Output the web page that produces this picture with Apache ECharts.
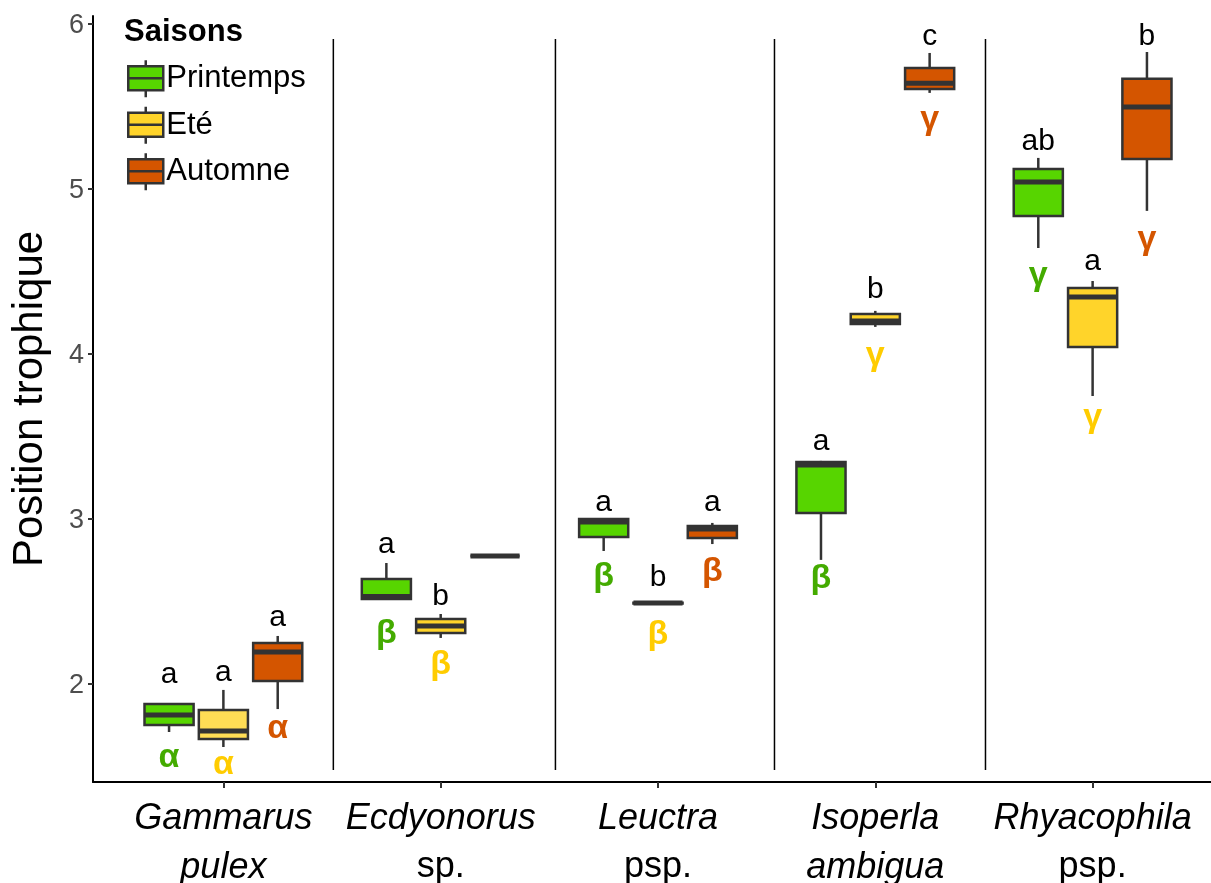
<!DOCTYPE html>
<html>
<head>
<meta charset="utf-8">
<script src="https://cdn.jsdelivr.net/npm/echarts@6/dist/echarts.min.js"></script>
<style>
  html, body { margin: 0; padding: 0; background: #ffffff; }
  #chart { width: 1211px; height: 883px; }
</style>
</head>
<body>
<div id="chart"></div>
<script>
// Taxa along the x axis (positions 1..5)
const taxa = ['Gammarus pulex', 'Ecdyonorus sp.', 'Leuctra psp.', 'Isoperla ambigua', 'Rhyacophila psp.'];
const taxonTickLabels = [
  '{i|Gammarus}\n{i|pulex}',
  '{i|Ecdyonorus}\n{n|sp.}',
  '{i|Leuctra}\n{n|psp.}',
  '{i|Isoperla}\n{i|ambigua}',
  '{i|Rhyacophila}\n{n|psp.}'
];
const yTicks = [2, 3, 4, 5, 6];

const seasons = ['Printemps', 'Eté', 'Automne'];

// Box statistics per taxon: [min, q1, median, q3, max]
const printemps = [
  [1.709, 1.752, 1.812, 1.879, 1.880],
  [2.510, 2.515, 2.530, 2.636, 2.733],
  [2.806, 2.891, 2.982, 3.000, 3.000],
  [2.752, 3.036, 3.327, 3.345, 3.352],
  [4.642, 4.836, 5.042, 5.121, 5.188]
];
const ete = [
  [1.618, 1.667, 1.715, 1.842, 1.964],
  [2.279, 2.309, 2.352, 2.394, 2.424],
  [2.485, 2.488, 2.490, 2.493, 2.495],
  [4.164, 4.182, 4.200, 4.242, 4.261],
  [3.745, 4.042, 4.345, 4.400, 4.442]
];
const automne = [
  [1.848, 2.018, 2.194, 2.248, 2.291],
  [2.776, 2.776, 2.776, 2.776, 2.776],
  [2.848, 2.885, 2.939, 2.958, 2.976],
  [5.582, 5.606, 5.640, 5.733, 5.824],
  [4.867, 5.182, 5.497, 5.667, 5.830]
];

// Letters of the between-taxa test (above boxes) and their heights
const printempsLetters = ['a', 'a', 'a', 'a', 'ab'];
const printempsLetterY = [2.055, 2.842, 3.097, 3.467, 5.285];
const eteLetters = ['a', 'b', 'b', 'b', 'a'];
const eteLetterY = [2.067, 2.527, 2.642, 4.388, 4.558];
const automneLetters = ['a', '', 'a', 'c', 'b'];
const automneLetterY = [2.400, 0, 3.097, 5.921, 5.921];

// Greek letters of the between-season test (below boxes) and their heights
const printempsGreek = ['α', 'β', 'β', 'β', 'γ'];
const printempsGreekY = [1.555, 2.305, 2.650, 2.638, 4.475];
const eteGreek = ['α', 'β', 'β', 'γ', 'γ'];
const eteGreekY = [1.512, 2.117, 2.299, 3.990, 3.614];
const automneGreek = ['α', '', 'β', 'γ', 'γ'];
const automneGreekY = [1.730, 0, 2.680, 5.420, 4.693];

// Vertical dividers between taxa (x in axis units)
const dividers = [1.506, 2.528, 3.536, 4.507];

const FONT = '"Liberation Sans", Arial, Helvetica, sans-serif';
const STROKE = '#333333';
const HALF = 0.113;      // half box width, axis units
const DODGE = 0.25;      // spacing between seasons within a taxon

const seasonStyle = [
  { stats: printemps, letters: printempsLetters, letterY: printempsLetterY, greek: printempsGreek, greekY: printempsGreekY,
    fills: ['#57d500', '#57d500', '#57d500', '#57d500', '#57d500'], greekColor: '#44ab00', offset: -DODGE },
  { stats: ete, letters: eteLetters, letterY: eteLetterY, greek: eteGreek, greekY: eteGreekY,
    fills: ['#ffdd55', '#ffd42a', '#ffd42a', '#ffd42a', '#ffd42a'], greekColor: '#ffcc00', offset: 0 },
  { stats: automne, letters: automneLetters, letterY: automneLetterY, greek: automneGreek, greekY: automneGreekY,
    fills: ['#d45500', '#d45500', '#d45500', '#d45500', '#d45500'], greekColor: '#d45500', offset: DODGE }
];

function boxRenderer(s) {
  return function (params, api) {
    const c = api.value(0) + s.offset;
    const mn = api.value(1), q1 = api.value(2), md = api.value(3), q3 = api.value(4), mx = api.value(5);
    const xl = api.coord([c - HALF, md])[0];
    const xr = api.coord([c + HALF, md])[0];
    const xm = api.coord([c, md])[0];
    const y = v => api.coord([c, v])[1];
    const i = params.dataIndex;
    const children = [
      { type: 'line', shape: { x1: xm, y1: y(mx), x2: xm, y2: y(q3) }, style: { stroke: STROKE, lineWidth: 2.5 } },
      { type: 'line', shape: { x1: xm, y1: y(q1), x2: xm, y2: y(mn) }, style: { stroke: STROKE, lineWidth: 2.5 } },
      { type: 'rect', shape: { x: xl, y: y(q3), width: xr - xl, height: y(q1) - y(q3) },
        style: { fill: s.fills[i], stroke: STROKE, lineWidth: 2.5 } },
      { type: 'line', shape: { x1: xl, y1: y(md), x2: xr, y2: y(md) }, style: { stroke: STROKE, lineWidth: 5 } }
    ];
    if (s.letters[i]) {
      children.push({ type: 'text', x: xm, y: y(s.letterY[i]),
        style: { text: s.letters[i], fill: '#000', font: '30px ' + FONT, align: 'center', verticalAlign: 'middle' } });
    }
    if (s.greek[i]) {
      children.push({ type: 'text', x: xm, y: y(s.greekY[i]),
        style: { text: s.greek[i], fill: s.greekColor, font: 'bold 34px ' + FONT, align: 'center', verticalAlign: 'middle' } });
    }
    return { type: 'group', children };
  };
}

const boxSeries = seasonStyle.map((s, k) => ({
  name: seasons[k],
  type: 'custom',
  renderItem: boxRenderer(s),
  itemStyle: { color: s.fills[1], borderColor: STROKE, borderWidth: 2.5 },
  encode: { x: 0, y: [1, 2, 3, 4, 5] },
  data: s.stats.map((st, j) => [j + 1].concat(st)),
  z: 3
}));

const dividerSeries = {
  name: 'dividers',
  type: 'custom',
  renderItem: function (params, api) {
    const top = api.coord([api.value(0), 5.909]);
    const bot = api.coord([api.value(0), 1.479]);
    return { type: 'line', shape: { x1: top[0], y1: top[1], x2: bot[0], y2: bot[1] },
      style: { stroke: '#000', lineWidth: 1.5 } };
  },
  encode: { x: 0 },
  data: dividers.map(d => [d]),
  silent: true,
  z: 2
};

const legendIcon = 'path://M0,6 L35,6 L35,30 L0,30 Z M0,18 L35,18 M17.5,0 L17.5,6 M17.5,30 L17.5,37';

const chart = echarts.init(document.getElementById('chart'), null, { renderer: 'canvas' });
chart.setOption({
  animation: false,
  backgroundColor: '#ffffff',
  textStyle: { fontFamily: FONT },
  title: {
    text: 'Saisons', left: 119, top: 12, padding: 5,
    textStyle: { fontFamily: FONT, fontSize: 31, fontWeight: 'bold', color: '#000' }
  },
  legend: {
    orient: 'vertical', left: 127, top: 59, padding: 0,
    itemWidth: 35, itemHeight: 37, itemGap: 7,
    data: seasons.map(n => ({ name: n, icon: legendIcon })),
    itemStyle: { borderColor: STROKE, borderWidth: 2.5 },
    textStyle: { fontFamily: FONT, fontSize: 31, color: '#000', padding: [0, 0, 0, -2] },
    selectedMode: false
  },
  grid: { left: 93, top: 16, width: 1130, height: 766, outerBoundsMode: 'none', containLabel: false },
  xAxis: {
    type: 'value', min: 0.4, max: 5.6,
    axisLine: { lineStyle: { color: '#000', width: 2 } },
    axisTick: { customValues: [1, 2, 3, 4, 5], length: 6, lineStyle: { color: STROKE, width: 2 } },
    axisLabel: {
      customValues: [1, 2, 3, 4, 5],
      formatter: v => taxonTickLabels[Math.round(v) - 1],
      margin: 12,
      lineHeight: 49,
      hideOverlap: false,
      rich: {
        i: { fontFamily: FONT, fontSize: 36, fontStyle: 'italic', color: '#000', lineHeight: 49 },
        n: { fontFamily: FONT, fontSize: 36, color: '#000', lineHeight: 49 }
      }
    },
    splitLine: { show: false }
  },
  yAxis: {
    type: 'value', min: 1.406, max: 6.048,
    name: 'Position trophique', nameLocation: 'middle', nameGap: 42,
    nameTextStyle: { fontFamily: FONT, fontSize: 42, color: '#000' },
    axisLine: { show: true, lineStyle: { color: '#000', width: 2 } },
    axisTick: { show: true, customValues: yTicks, length: 5, lineStyle: { color: STROKE, width: 2 } },
    axisLabel: {
      customValues: yTicks, margin: 9,
      formatter: v => '{t|' + v + '}',
      rich: { t: { fontFamily: FONT, fontSize: 27, color: '#4d4d4d', padding: [4, 0, 0, 0] } }
    },
    splitLine: { show: false }
  },
  series: [dividerSeries].concat(boxSeries)
});
</script>
</body>
</html>
